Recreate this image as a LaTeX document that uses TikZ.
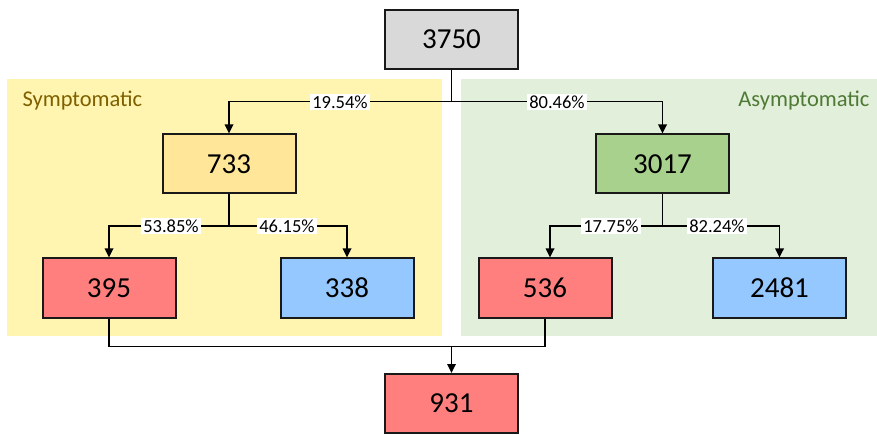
\documentclass[tikz,border=0pt]{standalone}
\usepackage{fontspec}
\setmainfont{Carlito}
\usetikzlibrary{arrows.meta}
\definecolor{panelY}{HTML}{FFF4B0}
\definecolor{panelG}{HTML}{E2EFDA}
\definecolor{boxGray}{HTML}{D9D9D9}
\definecolor{boxYel}{HTML}{FFE699}
\definecolor{boxGrn}{HTML}{A9D18E}
\definecolor{boxRed}{HTML}{FF7F7F}
\definecolor{boxBlue}{HTML}{95C8FF}
\definecolor{txtY}{HTML}{7F6000}
\definecolor{txtG}{HTML}{4F7A35}
\begin{document}
\begin{tikzpicture}[x=1pt,y=-1pt,
  numbox/.style={draw=black!90, line width=2pt, minimum width=133pt, minimum height=59pt, inner sep=0pt, font=\fontsize{29}{34}\selectfont},
  pct/.style={fill=white, inner xsep=2pt, inner ysep=2pt, font=\fontsize{18.5}{21}\selectfont},
  paneltitle/.style={font=\fontsize{22.5}{26}\selectfont, anchor=base},
  conn/.style={line width=1.7pt, draw=black},
  arr/.style={conn, -{Triangle[length=9pt,width=8.5pt]}}]
\useasboundingbox (0,0) rectangle (877,435);
% panels
\fill[panelY] (7,79) rectangle (442,336);
\fill[panelG] (461,79) rectangle (877,336);
\node[paneltitle, anchor=base west, text=txtY] (tS) at (19,107) {Symptomatic};
\node[paneltitle, anchor=base east, text=txtG] (tA) at (873,107) {Asymptomatic};
% boxes
\node[numbox, fill=boxGray] (n3750) at (451.5,39.5) {3750};
\node[numbox, fill=boxYel] (n733) at (229,164) {733};
\node[numbox, fill=boxGrn] (n3017) at (662.5,164) {3017};
\node[numbox, fill=boxRed] (n395) at (109,288) {395};
\node[numbox, fill=boxBlue] (n338) at (347,288) {338};
\node[numbox, fill=boxRed] (n536) at (545,288) {536};
\node[numbox, fill=boxBlue] (n2481) at (779.5,288) {2481};
\node[numbox, fill=boxRed] (n931) at (451.5,403.5) {931};
% connectors
\coordinate (j0) at (451.5,101.5);
\coordinate (j1) at (229,226);
\coordinate (j2) at (662.5,226);
\coordinate (j3) at (451.5,346.5);
\draw[conn] (n3750.south) -- (j0);
\draw[arr] (j0) -| (n733.north);
\draw[arr] (j0) -| (n3017.north);
\draw[conn] (n733.south) -- (j1);
\draw[arr] (j1) -| (n395.north);
\draw[arr] (j1) -| (n338.north);
\draw[conn] (n3017.south) -- (j2);
\draw[arr] (j2) -| ([xshift=5pt]n536.north);
\draw[arr] (j2) -| (n2481.north);
\draw[conn] (n395.south) |- (j3);
\draw[conn] (n536.south) |- (j3);
\draw[arr] (j3) -- (n931.north);
% labels
\node[pct] (l1) at (340,102) {19.54\%};
\node[pct] (l2) at (557,102) {80.46\%};
\node[pct] (l3) at (171,226) {53.85\%};
\node[pct] (l4) at (287,226) {46.15\%};
\node[pct] (l5) at (611,226) {17.75\%};
\node[pct] (l6) at (717,226) {82.24\%};
\end{tikzpicture}
\end{document}
